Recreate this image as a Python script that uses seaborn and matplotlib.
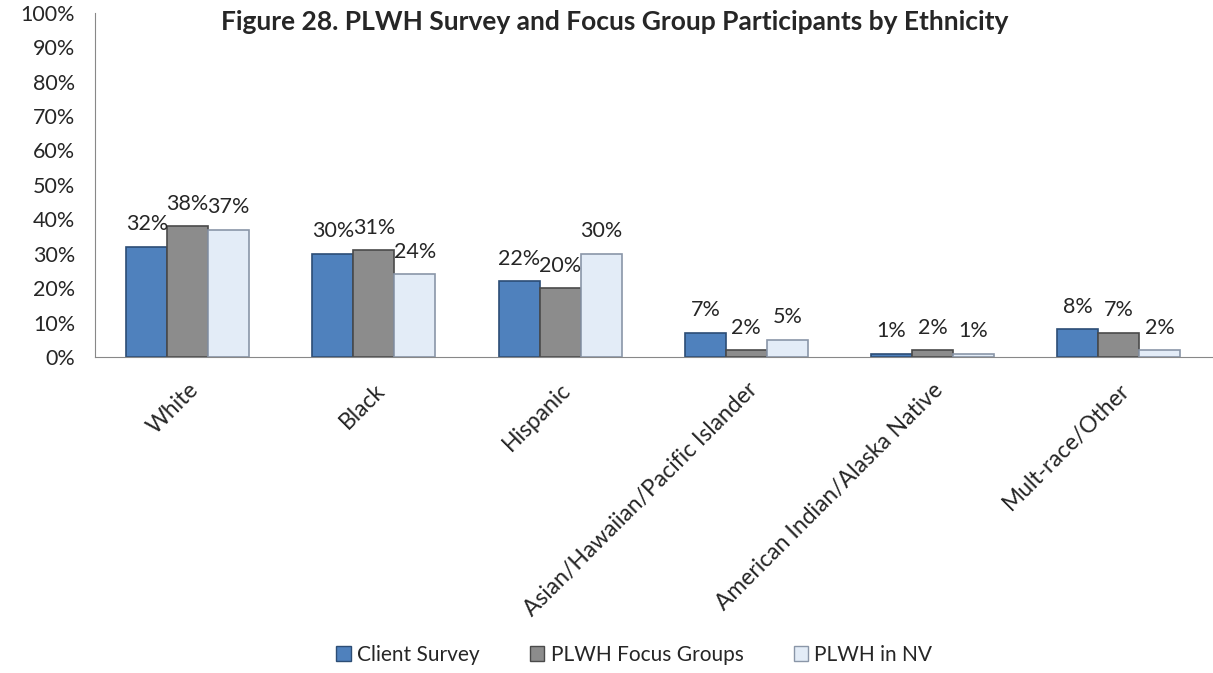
import pandas as pd
import matplotlib.pyplot as plt
import seaborn as sns
from matplotlib.patches import Patch

# Datos
categories = ["White", "Black", "Hispanic", "Asian/Hawaiian/Pacific Islander",
              "American Indian/Alaska Native", "Mult-race/Other"]
series = ["Client Survey", "PLWH Focus Groups", "PLWH in NV"]
client_survey = [32, 30, 22, 7, 1, 8]
focus_groups = [38, 31, 20, 2, 2, 7]
plwh_nv = [37, 24, 30, 5, 1, 2]

colors = ["#4f81bd", "#8c8c8c", "#e3ecf7"]
edges = ["#2c4d75", "#4a4a4a", "#8a96a8"]

df = pd.DataFrame({
    "cat": categories * 3,
    "serie": [s for s in series for _ in categories],
    "valor": client_survey + focus_groups + plwh_nv,
})

sns.set_style("white")
plt.rcParams["font.family"] = ["Lato", "DejaVu Sans"]

fig = plt.figure(figsize=(12.13, 6.73), dpi=100)
ax = fig.add_axes([0.078, 0.4695, 0.921, 0.5115])

sns.barplot(data=df, x="cat", y="valor", hue="serie", palette=colors,
            width=0.66, gap=0, saturation=1, legend=False, ax=ax)

for cont, ec in zip(ax.containers, edges):
    for bar in cont:
        bar.set_edgecolor(ec)
        bar.set_linewidth(1.2)
    ax.bar_label(cont, labels=[f"{v:.0f}%" for v in cont.datavalues],
                 padding=9, fontsize=15.5)

ax.set_ylim(0, 100)
ax.set_xlim(-0.5, 5.5)
ax.set_yticks(range(0, 101, 10))
ax.set_yticklabels([f"{v}%" for v in range(0, 101, 10)], fontsize=15.5)
ax.set_xticks(range(6))
ax.set_xticklabels(categories, rotation=45, ha="right", rotation_mode="anchor", fontsize=16.5)
ax.set_xticks([i - 0.5 for i in range(7)], minor=True)
ax.tick_params(axis="x", which="major", length=0, pad=16)
ax.tick_params(axis="x", which="minor", length=6, color="#888888", direction="out")
ax.tick_params(axis="y", length=7, color="#888888", direction="out", pad=7)
ax.set_xlabel("")
ax.set_ylabel("")
for s in ["top", "right"]:
    ax.spines[s].set_visible(False)
for s in ["left", "bottom"]:
    ax.spines[s].set_color("#888888")

fig.text(0.507, 0.967, "Figure 28. PLWH Survey and Focus Group Participants by Ethnicity",
         ha="center", va="center", fontsize=19, fontweight="bold")

handles = [Patch(facecolor=c, edgecolor=e) for c, e in zip(colors, edges)]
fig.legend(handles, series, loc="center", bbox_to_anchor=(0.523, 0.027), ncol=3,
           frameon=False, fontsize=15, handlelength=0.7, handleheight=0.7,
           handletextpad=0.3, columnspacing=2.4)

fig.savefig("out.png", dpi=100)
